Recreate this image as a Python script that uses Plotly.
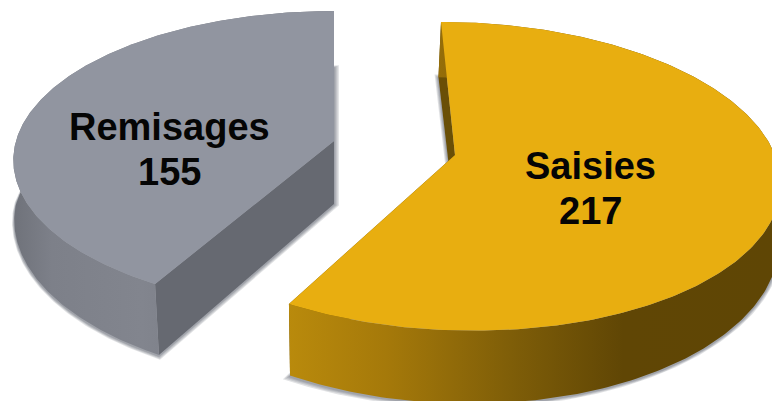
import numpy as np
import plotly.graph_objects as go

categories = ["Saisies", "Remisages"]
values = [217, 155]

W, H = 772, 401
DEPTH = 63
TAPER = 0.025
total = sum(values)
spans = [v / total * 360 for v in values]
starts = [0, spans[0]]

# per-slice perspective placement
geom = {
    "Saisies": dict(ax=455, ay=155, rx=320, ry=151.4, k=0.138, vx=339.6),
    "Remisages": dict(ax=334, ay=141, rx=318, ry=146.7, k=0.1287, vx=334),
}
style = {
    "Saisies": dict(top="#e8ae10", wall="#6a4f06",
                    side=[[0, "#b98a0c"], [0.2, "#a5790a"], [0.45, "#7f5e08"], [0.68, "#604605"], [1, "#5f4605"]]),
    "Remisages": dict(top="#9195a0", wall="#666971",
                      side=[[0, "#6f727a"], [0.12, "#7d8089"], [0.4, "#82858e"], [0.75, "#767982"], [1, "#6c6f78"]]),
}
label_pos = {"Saisies": (590, 166, 211), "Remisages": (169, 127, 172)}


def project(g, th):
    X, Y = np.sin(th), np.cos(th)
    s = 1 / (1 + g["k"] * Y)
    return g["vx"] + (g["ax"] - g["vx"] + g["rx"] * X) * s, g["ay"] - g["ry"] * Y * s, s


def lower(g, x, y, s, Y):
    return x + TAPER * np.abs(Y) * (g["vx"] - x), y + DEPTH * s


fig = go.Figure()


def poly(x, y, **kw):
    fig.add_trace(go.Scatter(x=x, y=y, mode="lines", fill="toself", line=dict(width=0),
                             hoverinfo="skip", showlegend=False, **kw))


for name, start, span in zip(categories[::-1], starts[::-1], spans[::-1]):
    g, st = geom[name], style[name]
    th = np.radians(np.linspace(start, start + span, 240))
    ax, ay = g["ax"], g["ay"]
    x, y, s = project(g, th)
    bx, by = lower(g, x, y, s, np.cos(th))
    abx, aby = lower(g, ax, ay, 1.0, 0.0)

    # soft shadow: enlarged copies of the base outline
    sx = np.r_[abx, bx]
    sy = np.r_[aby, by]
    cxs, cys = sx.mean(), sy.mean()
    for f in (1.022, 1.016, 1.010, 1.005):
        poly(cxs + (sx - cxs) * f, cys + (sy - cys) * f + 1, fillcolor="rgba(70,75,90,0.16)")

    # cut walls
    poly([ax, x[-1], bx[-1], abx], [ay, y[-1], by[-1], aby], fillcolor=st["wall"])
    poly([ax, x[0], bx[0], abx], [ay, y[0], by[0], aby], fillcolor=st["wall"])
    # outer wall
    poly(np.r_[x, bx[::-1]], np.r_[y, by[::-1]], fillcolor="rgba(0,0,0,0)",
         fillgradient=dict(type="horizontal", colorscale=st["side"]))
    # top face
    poly(np.r_[ax, x], np.r_[ay, y], fillcolor=st["top"])

for name, val in zip(categories, values):
    lx, ly1, ly2 = label_pos[name]
    for txt, ly in ((name, ly1), (str(val), ly2)):
        fig.add_annotation(x=lx, y=ly, text=f"<b>{txt}</b>", showarrow=False, xanchor="center", yanchor="middle",
                           font=dict(family="Liberation Sans", size=38, color="#050505"))

fig.update_layout(width=W, height=H, margin=dict(l=0, r=0, t=0, b=0), paper_bgcolor="white", plot_bgcolor="white",
                  xaxis=dict(range=[0, W], visible=False, fixedrange=True),
                  yaxis=dict(range=[H, 0], visible=False, fixedrange=True), showlegend=False)
fig.write_html("out.html", config=dict(displayModeBar=False),
               post_script="document.body.style.margin='0';document.documentElement.style.overflow='hidden';")
